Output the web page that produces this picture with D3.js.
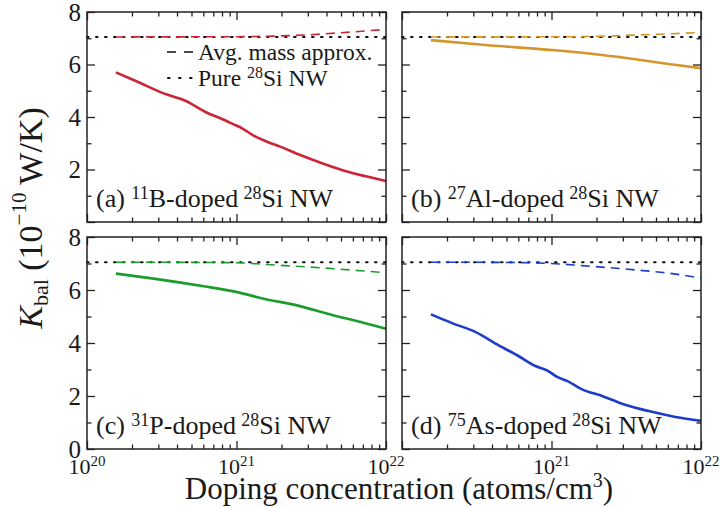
<!DOCTYPE html>
<html>
<head>
<meta charset="utf-8">
<script src="https://cdn.jsdelivr.net/npm/d3@7"></script>
<style>
  html, body { margin: 0; padding: 0; background: #fff; }
  .frame { fill: none; stroke: #222; stroke-width: 1.5; }
  .axis path { display: none; }
  .axis line { stroke: #222; stroke-width: 1.3; }
</style>
</head>
<body>
<svg id="chart" width="720" height="508"></svg>
<script>
// ---------- data (doping concentration in atoms/cm^3, K_bal in 1e-10 W/K) ----------
const PURE_SI = 7.05;
const X_DOMAIN = [1e20, 1e22];

const boronFull = [[1.56e20, 5.70], [2.16e20, 5.35], [3.26e20, 4.90], [4.55e20, 4.62], [6.35e20, 4.16],
  [7.8e20, 3.95], [9.57e20, 3.72], [1.09e21, 3.57], [1.30e21, 3.29], [1.60e21, 3.06], [1.96e21, 2.87],
  [2.67e21, 2.55], [4.03e21, 2.17], [5.48e21, 1.92], [7.46e21, 1.73], [1e22, 1.56]];
const boronAvg = [[1.56e20, 7.05], [1e21, 7.06], [2e21, 7.09], [3e21, 7.13], [5e21, 7.21], [1e22, 7.34]];

const aluminumFull = [[1.56e20, 6.93], [3.61e20, 6.74], [1.01e21, 6.55], [2.18e21, 6.36], [3.64e21, 6.20],
  [6.08e21, 6.02], [1e22, 5.86]];
const aluminumAvg = [[1.56e20, 7.05], [1.5e21, 7.06], [3.6e21, 7.12], [1e22, 7.22]];

const phosphorusFull = [[1.56e20, 6.62], [2.79e20, 6.43], [6.04e20, 6.14], [1.01e21, 5.92], [1.52e21, 5.67],
  [2.54e21, 5.42], [4.47e21, 5.04], [6.08e21, 4.86], [1e22, 4.54]];
const phosphorusAvg = [[1.56e20, 7.05], [1e21, 7.03], [1.6e21, 6.96], [3.6e21, 6.84], [1e22, 6.65]];

const arsenicFull = [[1.56e20, 5.08], [2.16e20, 4.75], [3.09e20, 4.42], [4.44e20, 3.91], [6.04e20, 3.50],
  [7.8e20, 3.13], [9.33e20, 2.97], [1.09e21, 2.72], [1.27e21, 2.57], [1.60e21, 2.25], [2.18e21, 2.00],
  [2.96e21, 1.71], [4.47e21, 1.43], [6.75e21, 1.21], [1e22, 1.06]];
const arsenicAvg = [[1.56e20, 7.05], [5e20, 7.04], [1e21, 7.00], [1.6e21, 6.92], [3.6e21, 6.76], [6e21, 6.64], [1e22, 6.45]];

const panelTags = ["(a)", "(b)", "(c)", "(d)"];
const dopantMass = ["11", "27", "31", "75"];
const dopantName = ["B", "Al", "P", "As"];
const panelColors = ["#cc2536", "#d4962c", "#1b9c2e", "#1d3cc9"];
const fullSeries = [boronFull, aluminumFull, phosphorusFull, arsenicFull];
const avgSeries = [boronAvg, aluminumAvg, phosphorusAvg, arsenicAvg];

const xMajor = [1e20, 1e21, 1e22];
const xMinor = [2, 3, 4, 5, 6, 7, 8, 9].flatMap(m => [m * 1e20, m * 1e21]);
const yMajor = [0, 2, 4, 6, 8];
const yMinor = [1, 3, 5, 7];

// ---------- layout ----------
const FONT = "Liberation Serif, serif";
const svg = d3.select("#chart").style("font-family", FONT);
const cols = [[87, 386], [402, 701]];
const rows = [[12, 222], [237, 449]];
const INK = "#1a1a1a";
const DASH = "9,6", DOT = "1.6,7.4";

function txt(sel, size) {
  return sel.append("text").style("font-family", FONT).attr("font-size", size).attr("fill", INK);
}

panelTags.forEach((tag, i) => {
  const col = i % 2, row = Math.floor(i / 2);
  const [x0, x1] = cols[col], [y0, y1] = rows[row];
  const w = x1 - x0, h = y1 - y0;

  const x = d3.scaleLog().domain(X_DOMAIN).range([0, w]);
  const y = d3.scaleLinear().domain([0, 8]).range([h, 0]);

  const g = svg.append("g").attr("transform", `translate(${x0},${y0})`);

  // ticks on all four sides, pointing inward
  const tickAxis = (axisFn, scale, vals, len, transform) =>
    g.append("g").attr("class", "axis").attr("transform", transform || null)
      .call(axisFn(scale).tickValues(vals).tickSize(-len).tickFormat(""));

  tickAxis(d3.axisBottom, x, xMajor, 8, `translate(0,${h})`);
  tickAxis(d3.axisBottom, x, xMinor, 4.5, `translate(0,${h})`);
  tickAxis(d3.axisTop, x, xMajor, 8);
  tickAxis(d3.axisTop, x, xMinor, 4.5);
  tickAxis(d3.axisRight, y, yMajor, 8, `translate(${w},0)`);
  tickAxis(d3.axisRight, y, yMinor, 4.5, `translate(${w},0)`);
  tickAxis(d3.axisLeft, y, yMajor, 8);
  tickAxis(d3.axisLeft, y, yMinor, 4.5);

  // y tick labels only on the left column (no 0 in the top row)
  if (col === 0) {
    yMajor.filter(d => row === 1 || d > 0).forEach(d => {
      txt(g, 25).attr("x", -6).attr("y", y(d)).attr("dy", "0.35em")
        .attr("text-anchor", "end").text(d);
    });
  }

  // x tick labels (powers of ten) only under the bottom row
  if (row === 1) {
    const labs = col === 0 ? xMajor : xMajor.slice(1);
    labs.forEach(v => {
      const t = txt(g, 22).attr("x", x(v)).attr("y", h + 24.5).attr("text-anchor", "middle");
      t.append("tspan").text("10");
      t.append("tspan").attr("font-size", 15).attr("dy", -8).text(Math.round(Math.log10(v)));
    });
  }

  // curves
  const line = d3.line().x(d => x(d[0])).y(d => y(d[1])).curve(d3.curveMonotoneX);

  g.append("path").datum([[X_DOMAIN[0], PURE_SI], [X_DOMAIN[1], PURE_SI]])
    .attr("d", line).attr("fill", "none").attr("stroke", "#111")
    .attr("stroke-width", 2).attr("stroke-dasharray", DOT).attr("stroke-linecap", "round");

  g.append("path").datum(avgSeries[i])
    .attr("d", line).attr("fill", "none").attr("stroke", panelColors[i])
    .attr("stroke-width", 1.6).attr("stroke-dasharray", DASH);

  g.append("path").datum(fullSeries[i])
    .attr("d", line).attr("fill", "none").attr("stroke", panelColors[i])
    .attr("stroke-width", 2.6);

  g.append("rect").attr("class", "frame").attr("width", w).attr("height", h);

  // panel label
  const lbl = txt(g, 26).attr("x", 9).attr("y", h - 15);
  lbl.append("tspan").text(tag + " ");
  lbl.append("tspan").attr("font-size", 18).attr("dy", -8).text(dopantMass[i]);
  lbl.append("tspan").attr("dy", 8).text(dopantName[i] + "-doped\u2009");
  lbl.append("tspan").attr("font-size", 18).attr("dy", -8).text("28");
  lbl.append("tspan").attr("dy", 8).text("Si NW");

  // legend in panel (a)
  if (i === 0) {
    const lx = 111;
    g.append("line").attr("x1", 80).attr("x2", 106).attr("y1", 40).attr("y2", 40)
      .attr("stroke", "#111").attr("stroke-width", 1.6).attr("stroke-dasharray", "9,8");
    g.append("line").attr("x1", 81).attr("x2", 105).attr("y1", 66).attr("y2", 66)
      .attr("stroke", "#111").attr("stroke-width", 2).attr("stroke-dasharray", "1.6,9.4")
      .attr("stroke-linecap", "round");
    txt(g, 23.5).attr("x", lx).attr("y", 47.5).text("Avg. mass approx.");
    const t2 = txt(g, 23.5).attr("x", lx).attr("y", 73.5);
    t2.append("tspan").text("Pure ");
    t2.append("tspan").attr("font-size", 16).attr("dy", -8).text("28");
    t2.append("tspan").attr("dy", 8).text("Si NW");
  }
});

// ---------- axis titles ----------
const xt = txt(svg, 31).attr("x", 399).attr("y", 499).attr("text-anchor", "middle");
xt.append("tspan").text("Doping concentration (atoms/cm");
xt.append("tspan").attr("font-size", 20).attr("dy", -12).text("3");
xt.append("tspan").attr("dy", 12).text(")");

const yt = txt(svg, 34).attr("transform", "translate(42,218) rotate(-90)").attr("text-anchor", "middle");
yt.append("tspan").attr("font-style", "italic").text("K");
yt.append("tspan").attr("font-size", 22).attr("dy", 6).text("bal");
yt.append("tspan").attr("dy", -6).text(" (10");
yt.append("tspan").attr("font-size", 21).attr("dy", -16).text("\u221210");
yt.append("tspan").attr("dy", 16).text(" W/K)");
</script>
</body>
</html>
